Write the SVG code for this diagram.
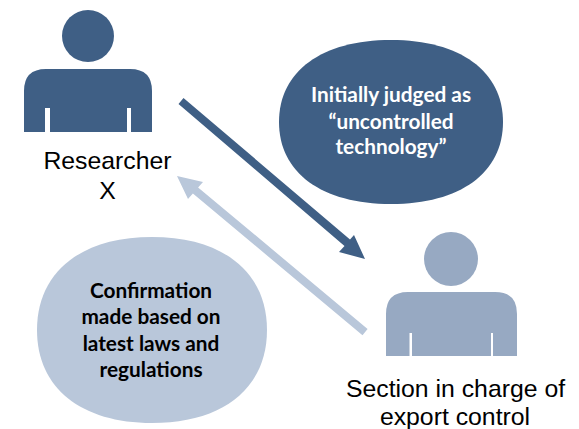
<svg xmlns="http://www.w3.org/2000/svg" width="579" height="429" viewBox="0 0 579 429">
<style>
.lbl{font-family:"Liberation Sans",Arial,sans-serif;font-size:24.800px;fill:#000;text-anchor:middle}
.bub{font-family:Lato,"Open Sans",sans-serif;font-weight:700;font-size:20.800px;text-anchor:middle}
.dark{fill:#3f5f85}.light{fill:#b9c7da}.mid{fill:#97a9c2}
</style>
<rect width="579" height="429" fill="#fff"/>
<g id="connectors">
<path class="dark" d="M178.500 104L183.500 98L350 239.500L354 235L365 259L339 252L344.500 246Z"/>
<path class="light" d="M362.500 335.200L367.600 329L198.100 187.400L203 182L177 176L188 199L192.900 193.600Z"/>
</g>
<g id="researcher">
<circle class="dark" cx="88" cy="36" r="26"/>
<path class="dark" d="M24 132V91Q24 69 46 69H130Q152 69 152 91V132H131V108H127V132H50V108H45V132Z"/>
<text class="lbl" x="107.500" y="169">Researcher</text>
<text class="lbl" x="107.500" y="199">X</text>
</g>
<g id="section">
<circle class="mid" cx="451" cy="259" r="27"/>
<path class="mid" d="M386 356V314Q386 292 408 292H495Q517 292 517 314V356H493V333H491V356H412V333H409.500V356Z"/>
<text class="lbl" x="455.500" y="397">Section in charge of</text>
<text class="lbl" x="455" y="425">export control</text>
</g>
<g id="judged">
<path class="dark" d="M279 122C279 71 322 40 391 40C460 40 503 71 503 122C503 173 460 204 391 204C322 204 279 173 279 122Z"/>
<text class="bub" fill="#fff" x="391" y="102">Initially judged as</text>
<text class="bub" fill="#fff" x="391" y="129">“uncontrolled</text>
<text class="bub" fill="#fff" x="391" y="154">technology”</text>
</g>
<g id="confirmation">
<path class="light" d="M37 330C37 272 81 237 152 237C223 237 267 272 267 330C267 388 223 423 152 423C81 423 37 388 37 330Z"/>
<text class="bub" fill="#000" x="151" y="298">Confirmation</text>
<text class="bub" fill="#000" x="151" y="324">made based on</text>
<text class="bub" fill="#000" x="151" y="351">latest laws and</text>
<text class="bub" fill="#000" x="151" y="377">regulations</text>
</g>
</svg>
